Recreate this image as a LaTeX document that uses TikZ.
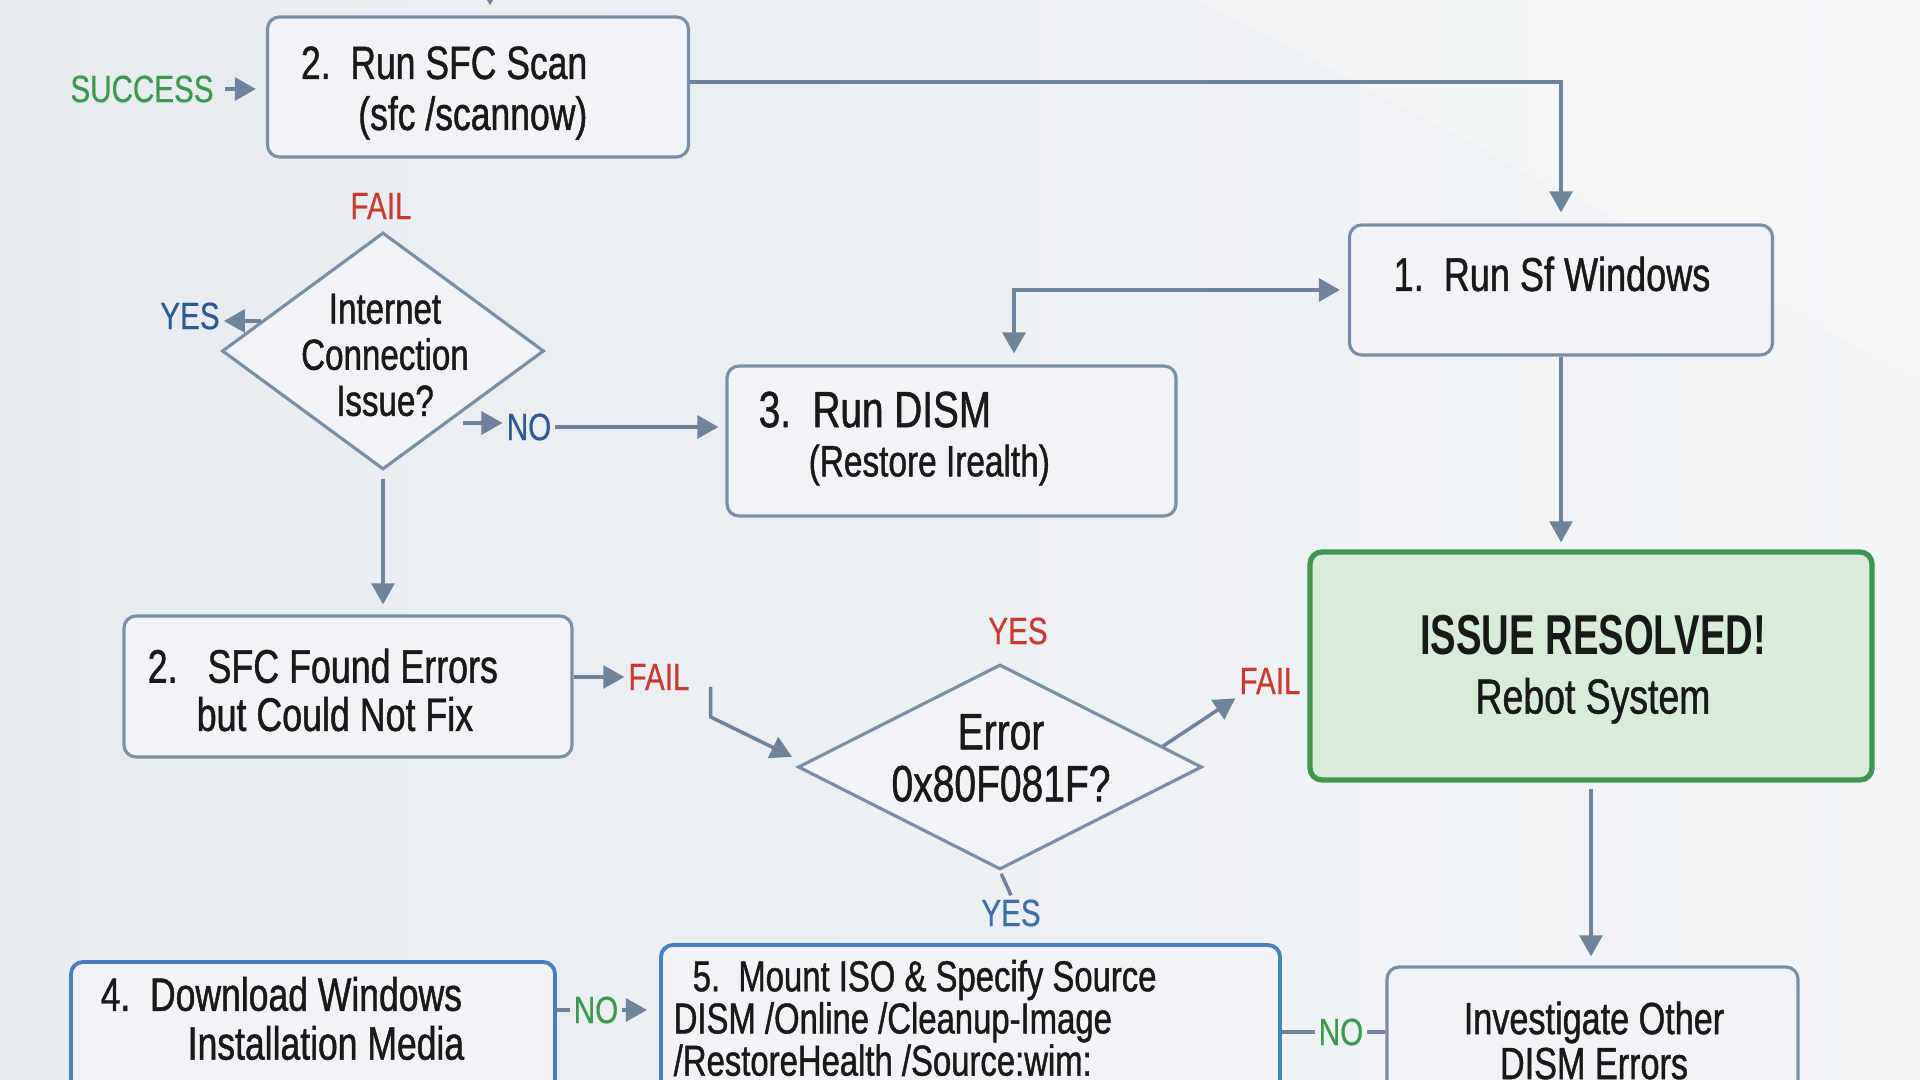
\documentclass[tikz,border=0pt]{standalone}
\usepackage{fontspec}
\setmainfont{Liberation Sans}[FakeStretch=0.78, FakeBold=0.5]
\newfontfamily\boxfont{Liberation Sans}[FakeStretch=0.76, FakeBold=1]
\newfontfamily\headfont{Liberation Sans}[FakeStretch=0.68]
\usepackage{tikz}
\usetikzlibrary{arrows.meta,shapes.geometric,calc}

\definecolor{bgdark}{HTML}{E7EBEF}
\definecolor{bglight}{HTML}{F3F5F7}
\definecolor{edgecol}{HTML}{7A8EA5}
\definecolor{linecol}{HTML}{6F849B}
\definecolor{boxfill}{HTML}{F1F3F6}
\definecolor{blueedge}{HTML}{4A7FBD}
\definecolor{okedge}{HTML}{3F9552}
\definecolor{okfill}{HTML}{D9ECDC}
\definecolor{failred}{HTML}{C93A30}
\definecolor{okgreen}{HTML}{3C9A50}
\definecolor{yesblue}{HTML}{2E5A93}
\definecolor{yeslight}{HTML}{3F6FA8}

\begin{document}
\begin{tikzpicture}
  [box/.style = {draw = edgecol, fill = boxfill, line width = .9pt, rounded corners = 1.2mm, inner sep = 0},
   bluebox/.style = {box, draw = blueedge, line width = 1.1pt},
   decision/.style = {diamond, draw = edgecol, fill = boxfill, line width = .9pt, inner sep = 0},
   txt/.style = {inner sep = 0, text = black!90, font = \boxfont\fontsize{13.3}{14.5}\selectfont},
   tag/.style = {inner sep = 1pt, font = \fontsize{10.8}{12}\selectfont},
   wire/.style = {draw = linecol, line width = 1pt},
   arr/.style = {wire, -{Triangle[length = 6pt, width = 6.5pt]}},
   arr2/.style = {wire, {Triangle[length = 6pt, width = 6.5pt]}-{Triangle[length = 6pt, width = 6.5pt]}}]
  \useasboundingbox (0,0) rectangle (19.2,10.8);
  \clip (0,0) rectangle (19.2,10.8);
  \shade[left color = bgdark, right color = bglight] (0,0) rectangle (19.2,10.8);
  \fill[white, opacity = .25] (12,10.8) -- (19.2,10.8) -- (19.2,7) -- cycle;

  \node[box, minimum width = 4.21cm, minimum height = 1.40cm] (sfc) at (4.78, 9.93) {};
  \node[txt, anchor = east, align = right] (sfc-t) at (5.88, 9.87) {2.\ \ Run SFC Scan\\(sfc /scannow)};
  \node[box, minimum width = 4.23cm, minimum height = 1.30cm] (sfw) at (15.61, 7.90) {};
  \node[txt, font = \boxfont\fontsize{13.5}{15}\selectfont] (sfw-t) at (15.52, 8.06) {1.\ \ Run Sf Windows};
  \node[box, minimum width = 4.49cm, minimum height = 1.50cm] (dism) at (9.515, 6.39) {};
  \node[txt, anchor = west, align = left, font = \boxfont\fontsize{12.5}{14}\selectfont] (dism-t) at (7.58, 6.415)
    {{\fontsize{14.5}{14}\selectfont 3.\ \ Run DISM}\\\hspace*{5mm}(Restore Irealth)};
  \node[decision, minimum width = 3.22cm, minimum height = 2.37cm] (inet) at (3.83, 7.29) {};
  \node[txt, align = center, font = \boxfont\fontsize{12.4}{13.1}\selectfont] (inet-t) at (3.85, 7.25) {Internet\\Connection\\Issue?};
  \node[box, minimum width = 4.48cm, minimum height = 1.41cm] (sfcerr) at (3.48, 3.935) {};
  \node[txt, anchor = west, align = left, font = \boxfont\fontsize{13.4}{13.7}\selectfont] (sfcerr-t) at (1.47, 3.90)
    {2.\hspace{3mm}SFC Found Errors\\\hspace*{4.9mm}but Could Not Fix};
  \node[decision, minimum width = 4.04cm, minimum height = 2.05cm] (err) at (10.00, 3.13) {};
  \node[txt, align = center, font = \boxfont\fontsize{14.6}{14.8}\selectfont] (err-t) at (10.01, 3.22) {Error\\0x80F081F?};
  \node[box, draw = okedge, fill = okfill, line width = 1.5pt, minimum width = 5.62cm, minimum height = 2.28cm] (done) at (15.91, 4.14) {};
  \node[txt, align = center, font = \boxfont\fontsize{14}{16.8}\selectfont] (done-t) at (15.93, 4.105)
    {{\headfont\bfseries\fontsize{16}{16.8}\selectfont ISSUE RESOLVED!}\\Rebot System};
  \node[bluebox, minimum width = 4.84cm, minimum height = 1.56cm] (media) at (3.13, 0.40) {};
  \node[txt, anchor = west, align = left, font = \boxfont\fontsize{13.3}{13.9}\selectfont] (media-t) at (1.00, 0.615)
    {4.\ \ Download Windows\\\hspace*{8.7mm}Installation Media};
  \node[bluebox, minimum width = 6.19cm, minimum height = 1.50cm] (mount) at (9.705, 0.60) {};
  \node[txt, anchor = west, align = left, font = \boxfont\fontsize{12.3}{12}\selectfont] (mount-t) at (6.73, 0.62)
    {\hspace*{1.9mm}5.\ \ Mount ISO \& Specify Source\\DISM /Online /Cleanup-Image\\/RestoreHealth /Source:wim:};
  \node[box, minimum width = 4.11cm, minimum height = 1.46cm] (invest) at (15.925, 0.40) {};
  \node[txt, align = center, font = \boxfont\fontsize{12.8}{12.8}\selectfont] (invest-t) at (15.94, 0.395) {Investigate Other\\DISM Errors};

  \node[tag, text = okgreen] (succ) at (1.42, 9.91) {SUCCESS};
  \node[tag, text = failred] (fail1) at (3.81, 8.74) {FAIL};
  \node[tag, text = yesblue] (yes1) at (1.90, 7.64) {YES};
  \node[tag, text = yesblue] (no1) at (5.29, 6.53) {NO};
  \node[tag, text = failred] (fail2) at (6.59, 4.03) {FAIL};
  \node[tag, text = failred] (yes2) at (10.18, 4.49) {YES};
  \node[tag, text = failred] (fail3) at (12.70, 3.99) {FAIL};
  \node[tag, text = yeslight] (yes3) at (10.11, 1.67) {YES};
  \node[tag, text = okgreen] (no4) at (5.96, 0.70) {NO};
  \node[tag, text = okgreen] (no5) at (13.41, 0.48) {NO};

  \coordinate (entry) at (4.90, 11.0);
  \draw[arr, shorten > = 1mm] (entry) -- (entry |- sfc.north);
  \draw[arr, shorten < = .7mm, shorten > = 1mm] (succ.east) -- (succ.east -| sfc.west);
  \draw[arr, shorten > = 1.1mm] ([yshift = .5mm]sfc.east) -| (sfw.north);
  \draw[arr2, shorten < = 1.1mm, shorten > = .8mm] ([xshift = 6.25mm]dism.north) |- (sfw.west);
  \coordinate (inet-nw) at ($(inet.west)!.25!(inet.north)$);
  \draw[arr] (inet-nw) -- (inet-nw -| yes1.east);
  \coordinate (inet-se) at ($(inet.east)!.6!(inet.south)$);
  \draw[arr, shorten < = 1.5mm] (inet-se) -- (inet-se -| no1.west);
  \draw[arr, shorten > = .7mm] (no1.east) -- (no1.east -| dism.west);
  \draw[arr, shorten < = .8mm, shorten > = 1mm] (inet.south) -- (inet.south |- sfcerr.north);
  \draw[arr] (sfcerr.east |- fail2) -- (fail2.west);
  \draw[arr, shorten > = .5mm] ([shift = {(1.7mm, -1mm)}]fail2.east) -- ++(0, -.3) -- ([yshift = .8mm]err.west);
  \coordinate (err-ne) at ($(err.north)!.8!(err.east)$);
  \draw[arr] (err-ne) -- (fail3.south west);
  \draw[wire, shorten < = .3mm] (err.south) -- (yes3.north);
  \draw[arr, shorten > = .7mm] (sfw.south) -- (sfw.south |- done.north);
  \draw[arr, shorten < = .6mm, shorten > = .9mm] (done.south) -- (done.south |- invest.north);
  \draw[wire] (media.east |- no4) -- (no4.west);
  \draw[arr, shorten > = 1.2mm] (no4.east) -- (no4.east -| mount.west);
  \draw[wire] (mount.east |- no5) -- (no5.west);
  \draw[wire] (no5.east) -- (no5.east -| invest.west);
\end{tikzpicture}
\end{document}
